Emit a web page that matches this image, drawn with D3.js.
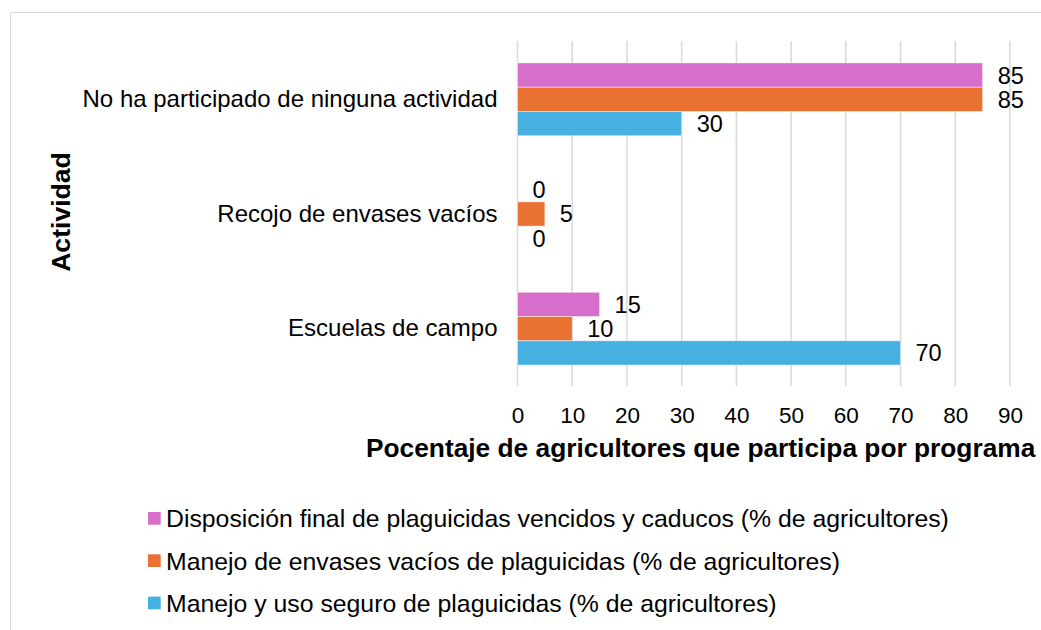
<!DOCTYPE html>
<html>
<head>
<meta charset="utf-8">
<script src="https://cdn.jsdelivr.net/npm/d3@7"></script>
<style>
  body { margin: 0; background: #fff; }
  svg { display: block; }
  text { font-family: "Liberation Sans", Arial, sans-serif; fill: #000; }
</style>
</head>
<body>
<svg id="chart" width="1041" height="630"></svg>
<script>
const categories = [
  "No ha participado de ninguna actividad",
  "Recojo de envases vacíos",
  "Escuelas de campo"
];
const seriesNames = [
  "Disposición final de plaguicidas vencidos y caducos (% de agricultores)",
  "Manejo de envases vacíos de plaguicidas (% de agricultores)",
  "Manejo y uso seguro de plaguicidas (% de agricultores)"
];
const disposicionValues = [85, 0, 15];
const envasesValues = [85, 5, 10];
const usoSeguroValues = [30, 0, 70];
const xTicks = [0, 10, 20, 30, 40, 50, 60, 70, 80, 90];
const colors = ["#D86ECC", "#E97132", "#46B1E1"];

const seriesValues = [disposicionValues, envasesValues, usoSeguroValues];

const svg = d3.select("#chart");

// chart frame
svg.append("path")
  .attr("d", "M10.5,630 V12.5 H1041")
  .attr("fill", "none")
  .attr("stroke", "#D9D9D9")
  .attr("stroke-width", 1);

const plot = { left: 517.5, right: 1010, top: 42, bottom: 386 };

const x = d3.scaleLinear().domain([0, 90]).range([plot.left, plot.right]);
const y = d3.scaleBand().domain(categories).range([plot.top, plot.bottom])
  .paddingInner(0.365).paddingOuter(0.1825);
const ySub = d3.scaleBand().domain(d3.range(seriesNames.length)).range([0, y.bandwidth()]);

// gridlines
svg.append("g").selectAll("line").data(xTicks).join("line")
  .attr("x1", d => x(d)).attr("x2", d => x(d))
  .attr("y1", plot.top - 1).attr("y2", plot.bottom)
  .attr("stroke", "#D9D9D9").attr("stroke-width", 1.5);

// x axis tick labels
const xAxis = d3.axisBottom(x).tickValues(xTicks).tickSize(0).tickPadding(0);
const gx = svg.append("g").attr("transform", `translate(0,${plot.bottom + 21})`).call(xAxis);
gx.select(".domain").remove();
gx.selectAll("text")
  .attr("font-size", 22.5)
  .attr("font-family", "'Liberation Sans', Arial, sans-serif")
  .attr("fill", "#000");

// category labels
const yAxis = d3.axisLeft(y).tickSize(0).tickPadding(0);
const gy = svg.append("g").attr("transform", `translate(${plot.left - 20},0)`).call(yAxis);
gy.select(".domain").remove();
gy.selectAll("text")
  .attr("font-size", 24)
  .attr("font-family", "'Liberation Sans', Arial, sans-serif")
  .attr("fill", "#000");

// bars
const data = [];
categories.forEach((c, ci) => {
  seriesValues.forEach((vals, si) => {
    data.push({ cat: c, s: si, v: vals[ci] });
  });
});

svg.append("g").selectAll("rect").data(data).join("rect")
  .attr("x", x(0))
  .attr("y", d => y(d.cat) + ySub(d.s))
  .attr("width", d => x(d.v) - x(0))
  .attr("height", ySub.bandwidth())
  .attr("fill", d => colors[d.s])
  .attr("stroke", "#fff")
  .attr("stroke-opacity", 0.6)
  .attr("stroke-width", d => d.v > 0 ? 0.75 : 0);

// data labels
svg.append("g").selectAll("text").data(data).join("text")
  .attr("x", d => x(d.v) + 15)
  .attr("y", d => y(d.cat) + ySub(d.s) + ySub.bandwidth() / 2)
  .attr("dy", "0.36em")
  .attr("font-size", 23.5)
  .text(d => d.v);

// axis titles
svg.append("text")
  .attr("transform", `translate(70,212) rotate(-90)`)
  .attr("text-anchor", "middle")
  .attr("font-size", 26.6)
  .attr("font-weight", "bold")
  .text("Actividad");

svg.append("text")
  .attr("x", 366)
  .attr("y", 457)
  .attr("font-size", 26.3)
  .attr("font-weight", "bold")
  .text("Pocentaje de agricultores que participa por programa");

// legend
const legend = svg.append("g").selectAll("g").data(seriesNames).join("g")
  .attr("transform", (d, i) => `translate(148,${512 + i * 42.3})`);
legend.append("rect")
  .attr("width", 12.7).attr("height", 12.7)
  .attr("fill", (d, i) => colors[i]);
legend.append("text")
  .attr("x", 18)
  .attr("y", 6.35)
  .attr("dy", "0.36em")
  .attr("font-size", 24.8)
  .text(d => d);
</script>
</body>
</html>
